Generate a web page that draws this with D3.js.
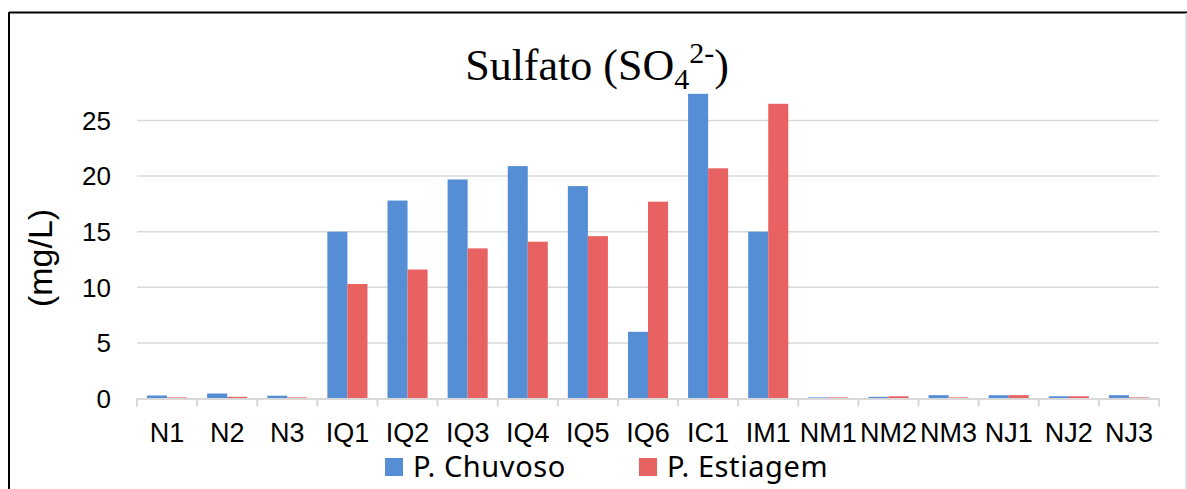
<!DOCTYPE html>
<html>
<head>
<meta charset="utf-8">
<script src="https://cdn.jsdelivr.net/npm/d3@7"></script>
<style>
  body { margin: 0; background: #fff; }
  svg { display: block; }
</style>
</head>
<body>
<script>
// sampling points and sulfate values (mg/L)
var points = ["N1", "N2", "N3", "IQ1", "IQ2", "IQ3", "IQ4", "IQ5", "IQ6", "IC1", "IM1", "NM1", "NM2", "NM3", "NJ1", "NJ2", "NJ3"];
var chuvoso = [0.27, 0.45, 0.25, 15.0, 17.8, 19.7, 20.9, 19.1, 6.0, 27.4, 15.0, 0.1, 0.15, 0.3, 0.3, 0.2, 0.3];
var estiagem = [0.1, 0.15, 0.1, 10.3, 11.6, 13.5, 14.1, 14.6, 17.7, 20.7, 26.5, 0.1, 0.2, 0.1, 0.3, 0.2, 0.1];
var seriesNames = ["P. Chuvoso", "P. Estiagem"];
var yTicks = [0, 5, 10, 15, 20, 25];

var colors = ["#558ED5", "#E96262"];
var W = 1187, H = 489;

var svg = d3.select("body").append("svg")
    .attr("width", W)
    .attr("height", H);

// outer frame (black top/left, grey right)
svg.append("line").attr("x1", 9).attr("x2", W).attr("y1", 12.5).attr("y2", 12.5)
    .attr("stroke", "#000").attr("stroke-width", 2);
svg.append("line").attr("x1", 9).attr("x2", 9).attr("y1", 12).attr("y2", H)
    .attr("stroke", "#000").attr("stroke-width", 2);
svg.append("line").attr("x1", 1186).attr("x2", 1186).attr("y1", 13).attr("y2", H)
    .attr("stroke", "#d9d9d9").attr("stroke-width", 1.5);

var x0 = d3.scaleBand().domain(points).range([137, 1159]).paddingInner(0).paddingOuter(0);
var x1 = d3.scaleBand().domain([0, 1]).range([0, x0.bandwidth()]).paddingInner(0).paddingOuter(0.5);
var y = d3.scaleLinear().domain([0, 25]).range([398.5, 120.5]);

// gridlines
svg.append("g").selectAll("line")
    .data(yTicks.filter(function (d) { return d > 0; }))
    .enter().append("line")
    .attr("x1", 137).attr("x2", 1159)
    .attr("y1", function (d) { return y(d); })
    .attr("y2", function (d) { return y(d); })
    .attr("stroke", "#d9d9d9").attr("stroke-width", 1.5);

// y tick labels
svg.append("g").selectAll("text")
    .data(yTicks)
    .enter().append("text")
    .attr("x", 111)
    .attr("y", function (d) { return y(d); })
    .attr("dy", "0.36em")
    .attr("text-anchor", "end")
    .style("font-family", "Liberation Sans, Arial, sans-serif")
    .style("font-size", "26px")
    .text(function (d) { return d; });

// bars
var groups = svg.append("g").selectAll("g")
    .data(points)
    .enter().append("g")
    .attr("transform", function (d) { return "translate(" + x0(d) + ",0)"; });

groups.selectAll("rect")
    .data(function (d, i) { return [chuvoso[i], estiagem[i]]; })
    .enter().append("rect")
    .attr("x", function (d, j) { return x1(j); })
    .attr("width", x1.bandwidth())
    .attr("y", function (d) { return y(d); })
    .attr("height", function (d) { return y(0) - y(d); })
    .attr("fill", function (d, j) { return colors[j]; });

// x axis
var xAxis = d3.axisBottom(x0).tickSize(0).tickPadding(0);
var gx = svg.append("g")
    .attr("transform", "translate(0," + y(0) + ")")
    .call(xAxis);
gx.select(".domain").attr("stroke", "#d9d9d9").attr("stroke-width", 2);
gx.selectAll(".tick text")
    .attr("y", 43.5)
    .attr("dy", 0)
    .style("font-family", "Liberation Sans, Arial, sans-serif")
    .style("font-size", "27px")
    .attr("fill", "#000");

// category boundary ticks
svg.append("g").selectAll("line")
    .data(points.concat(["end"]))
    .enter().append("line")
    .attr("x1", function (d, i) { return i < points.length ? x0(d) : x0.range()[1]; })
    .attr("x2", function (d, i) { return i < points.length ? x0(d) : x0.range()[1]; })
    .attr("y1", y(0)).attr("y2", y(0) + 8)
    .attr("stroke", "#d9d9d9").attr("stroke-width", 2);

// title
var title = svg.append("text")
    .attr("x", 597)
    .attr("y", 80)
    .attr("text-anchor", "middle")
    .style("font-family", "Liberation Serif, Times New Roman, serif")
    .style("font-size", "44px")
    .attr("fill", "#000");
title.append("tspan").text("Sulfato (SO");
title.append("tspan").attr("dy", 9).style("font-size", "30px").text("4");
title.append("tspan").attr("dy", -26).style("font-size", "30px").text("2-");
title.append("tspan").attr("dy", 17).text(")");

// y axis label
svg.append("text")
    .attr("transform", "translate(52,258) rotate(-90)")
    .attr("text-anchor", "middle")
    .style("font-family", "Liberation Sans, Arial, sans-serif")
    .style("font-size", "34px")
    .text("(mg/L)");

// legend
var legendX = [385, 639];
var legend = svg.append("g").selectAll("g")
    .data(seriesNames)
    .enter().append("g")
    .attr("transform", function (d, i) { return "translate(" + legendX[i] + ",458)"; });
legend.append("rect")
    .attr("width", 18).attr("height", 18)
    .attr("fill", function (d, i) { return colors[i]; });
legend.append("text")
    .attr("x", 28).attr("y", 19)
    .style("font-family", "Noto Sans, Open Sans, sans-serif")
    .style("font-size", "29px")
    .style("letter-spacing", "0.6px")
    .text(function (d) { return d; });
</script>
</body>
</html>
